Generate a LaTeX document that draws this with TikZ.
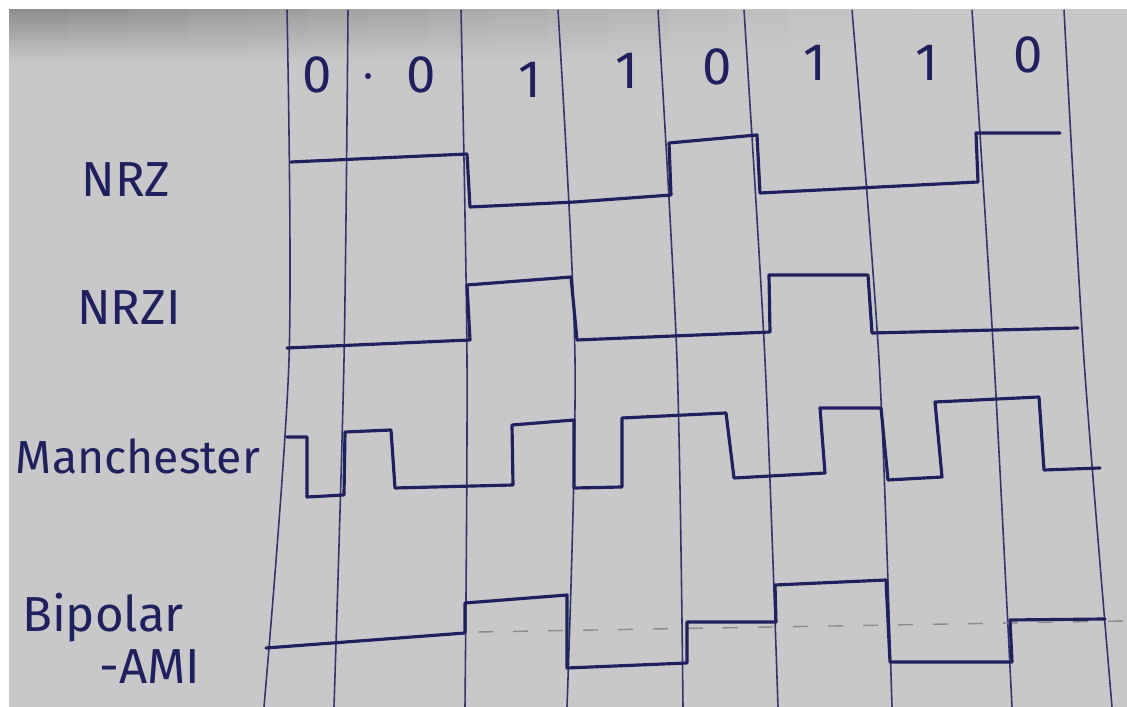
\documentclass[tikz,border=0pt]{standalone}
\usepackage{fontspec}
\setmainfont{Fira Sans}
\usepackage{tikz}
\definecolor{penBlue}{HTML}{20205E}
\definecolor{gridBlue}{HTML}{34346C}
\definecolor{paperGray}{HTML}{C8C8CA}
\definecolor{shadeGray}{HTML}{8E8E91}
\definecolor{zeroGray}{HTML}{8C8C90}

\begin{document}
\begin{tikzpicture}[
  x=0.1mm, y=-0.1mm,
  every node/.style={font=\fontsize{14}{16}\selectfont, text=penBlue},
  gridline/.style={gridBlue, line width=0.45pt},
  trace/.style={penBlue, line width=0.9pt, line join=round, line cap=round},
  zeroline/.style={zeroGray, line width=0.4pt, dash pattern=on 1.5mm off 2mm},
  bitlabel/.style={font=\fontsize{15}{18}\selectfont, inner sep=0pt},
  rowlabel/.style={inner sep=0pt},
]
\useasboundingbox (0,0) rectangle (1127,707);

% ======= Paper =======
\fill[white] (0,0) rectangle (1127,707);
\fill[paperGray] (9,10) rectangle (1127,707);
% shadow at the top, darker on the left
\foreach \i in {0,...,18} {
  \pgfmathsetmacro{\amt}{max(0,100-\i*7)}
  \shade[top color=shadeGray!\amt!paperGray, bottom color=paperGray, draw=none]
    ({9+\i*60},10) rectangle ({9+(\i+1)*60+1},62);
}

% ======= Grid =======
\foreach \a/\b/\c in {287/289/264, 348/344/334, 461/467/465, 558/575/567,
  658/677/683, 744/765/778, 852/879/892, 972/994/1012, 1064/1084/1112}
  \draw[gridline] plot[smooth] coordinates {(\a,10) (\b,360) (\c,707)};

% Bits
\foreach \x/\y/\d [count=\i] in {317/75/0, 421/75/0, 530/80/1, 627/71/1,
  717/67/0, 815/63/1, 927/63/1, 1028/55/0}
  \node[bitlabel] (bit\i) at (\x,\y) {\d};
\node[circle, fill=penBlue, inner sep=0.6pt] (bitdot) at (368,76) {};

% ======= Row labels =======
\node[rowlabel] (lbNrz) at (126,180) {NRZ};
\node[rowlabel] (lbNrzi) at (129,308) {NRZI};
\node[rowlabel, font=\fontsize{13.2}{16}\selectfont] (lbManch) at (138,456) {Manchester};
\node[rowlabel] (lbBipolar) at (103,618) {Bipolar};
\node[rowlabel] (lbAmi) at (150,667) {-AMI};

% ======= Waveforms =======
% NRZ
\draw[trace] (291,162) -- (467,154) -- (470,207) -- (575,202) -- (671,195)
  -- (669,143) -- (757,135) -- (760,193) -- (978,182) -- (976,133) -- (1060,133);

% NRZI
\draw[trace] (287,348) -- (470,340) -- (467,285) -- (571,277) -- (577,340)
  -- (770,332) -- (769,275) -- (868,275) -- (872,333) -- (1078,328);

% Manchester
\draw[trace] (287,437) -- (307,437) -- (307,497) -- (344,495) -- (345,432)
  -- (391,430) -- (395,488) -- (513,485) -- (512,425) -- (574,420) -- (574,488)
  -- (622,487) -- (622,418) -- (726,413) -- (734,478) -- (825,473) -- (820,408)
  -- (881,408) -- (888,480) -- (942,477) -- (935,402) -- (1039,397) -- (1044,470)
  -- (1100,468);

% Bipolar-AMI
\draw[zeroline] (478,632) -- (1127,621);
\draw[trace] (266,648) -- (465,633) -- (465,603) -- (567,595) -- (567,668)
  -- (687,663) -- (687,622) -- (776,622) -- (775,585) -- (886,580) -- (890,662)
  -- (1012,662) -- (1010,620) -- (1105,619);

\end{tikzpicture}
\end{document}
